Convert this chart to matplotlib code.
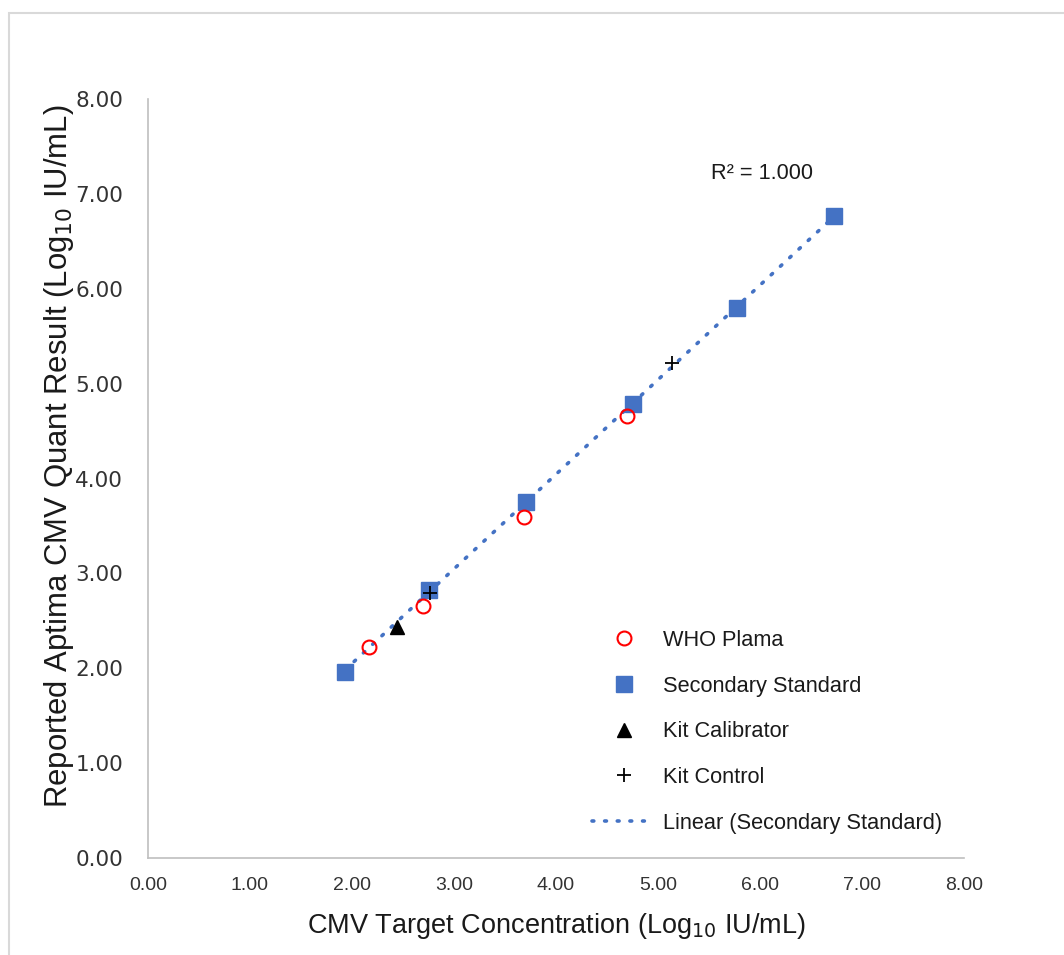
import matplotlib
matplotlib.use("Agg")
import matplotlib.pyplot as plt
import numpy as np
from matplotlib.patches import Rectangle

# Data
who_x = [2.17, 2.70, 3.69, 4.70]
who_y = [2.22, 2.66, 3.59, 4.66]
sec_x = [1.93, 2.75, 3.71, 4.75, 5.77, 6.73]
sec_y = [1.96, 2.83, 3.75, 4.79, 5.80, 6.77]
cal_x = [2.44]
cal_y = [2.44]
ctl_x = [2.76, 5.14]
ctl_y = [2.79, 5.22]
ticks = [0, 1, 2, 3, 4, 5, 6, 7, 8]
tick_labels = ["0.00", "1.00", "2.00", "3.00", "4.00", "5.00", "6.00", "7.00", "8.00"]

fig = plt.figure(figsize=(10.64, 9.55), dpi=100)
fig.patches.append(Rectangle((9/1064, -0.01), 1.1, 1 - 13/955 + 0.01, transform=fig.transFigure,
                             fill=False, edgecolor="#d9d9d9", linewidth=1.5))
ax = fig.add_axes([148/1064, 1 - 858/955, (964-148)/1064, (858-99)/955])

blue = "#4472c4"
m, b = np.polyfit(sec_x, sec_y, 1)
xl = np.array([min(sec_x), max(sec_x)])
ax.plot(who_x, who_y, 'o', mfc='none', mec='#ff0000', mew=1.5, ms=10, label="WHO Plama", zorder=4)
ax.plot(sec_x, sec_y, 's', color=blue, ms=11, label="Secondary Standard", zorder=3)
ax.plot(cal_x, cal_y, '^', color='black', ms=10, label="Kit Calibrator", zorder=4)
ax.plot(ctl_x, ctl_y, '+', color='black', ms=10, mew=1.3, label="Kit Control", zorder=5)
ax.plot(xl, m*xl + b, color=blue, lw=2.6, linestyle=(0, (0.5, 3.0)), dash_capstyle='round',
        label="Linear (Secondary Standard)", zorder=2)

ax.text(6.02, 7.22, "R² = 1.000", fontsize=15.7, family="Liberation Sans", ha="center", va="center",
        color='#1a1a1a')

ax.set_xlim(0, 8)
ax.set_ylim(0, 8)
ax.set_xticks(ticks)
ax.set_xticklabels(tick_labels, family="Liberation Sans", fontsize=14)
ax.set_yticks(ticks)
ax.set_yticklabels(tick_labels, family="DejaVu Sans", fontsize=15.5)
ax.tick_params(length=0, pad=14, axis='x', colors='#333333')
ax.tick_params(length=0, pad=18, axis='y', colors='#333333')
ax.xaxis.labelpad = 12
for s in ["top", "right"]:
    ax.spines[s].set_visible(False)
for s in ["left", "bottom"]:
    ax.spines[s].set_color("#bfbfbf")
    ax.spines[s].set_linewidth(1.2)

ax.set_xlabel("CMV Target Concentration (Log$_{10}$ IU/mL)", family="Liberation Sans", fontsize=19.5,
              color='#1a1a1a')
ax.set_ylabel("Reported Aptima CMV Quant Result (Log$_{10}$ IU/mL)", family="Liberation Sans",
              fontsize=22.4, color='#1a1a1a')
ax.yaxis.set_label_coords(-0.088, 0.529)

leg = ax.legend(loc="upper left", bbox_to_anchor=((592-148)/816, (858-630)/759), frameon=False,
                prop={"family": "Liberation Sans", "size": 15.7}, labelspacing=1.13,
                handlelength=2.9, handletextpad=0.37, borderpad=0, borderaxespad=0)
for t in leg.get_texts():
    t.set_color('#1a1a1a')

fig.savefig("out.png", dpi=100)
